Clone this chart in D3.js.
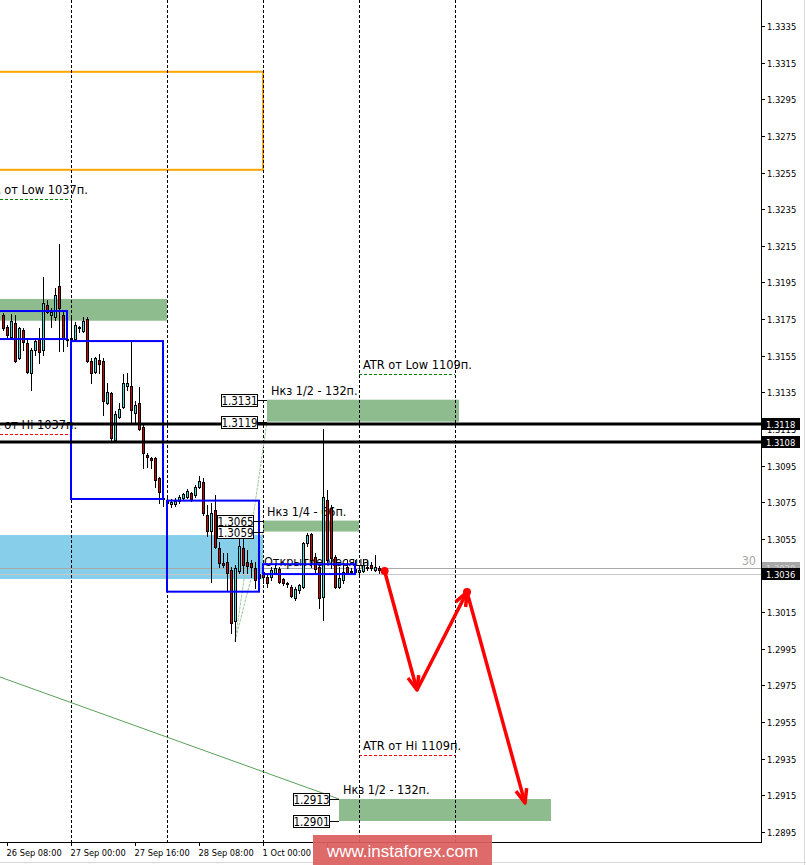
<!DOCTYPE html>
<html><head><meta charset="utf-8">
<script src="https://cdn.jsdelivr.net/npm/d3@7"></script>
<style>html,body{margin:0;padding:0;background:#fff;overflow:hidden}svg{display:block}</style>
</head><body>
<script>
// ---------- DATA ----------
// H1 candles, bar 0 = 26 Sep 07:00
const opens=[1.31772,1.31707,1.31652,1.31728,1.31537,1.31690,1.31619,1.31455,1.31581,1.31641,1.31581,1.31827,1.31772,1.31761,1.31930,1.31772,1.31641,1.31641,1.31641,1.31701,1.31685,1.31750,1.31521,1.31461,1.31526,1.31521,1.31292,1.31346,1.31090,1.31215,1.31270,1.31384,1.31384,1.31237,1.31292,1.31161,1.31008,1.30991,1.30991,1.30882,1.30773,1.30762,1.30740,1.30740,1.30757,1.30773,1.30778,1.30800,1.30789,1.30833,1.30860,1.30680,1.30593,1.30707,1.30500,1.30418,1.30424,1.30380,1.30101,1.30374,1.30500,1.30424,1.30418,1.30391,1.30336,1.30369,1.30342,1.30342,1.30363,1.30385,1.30331,1.30309,1.30287,1.30227,1.30271,1.30287,1.30527,1.30576,1.30451,1.30396,1.30232,1.30762,1.30718,1.30451,1.30287,1.30325,1.30396,1.30374,1.30385,1.30369,1.30374,1.30396,1.30407,1.30380,1.30391];
const highs=[1.31783,1.31718,1.31778,1.31772,1.31707,1.31701,1.31647,1.31592,1.31647,1.31701,1.31980,1.31854,1.31810,1.31920,1.32160,1.31789,1.31652,1.31761,1.31734,1.31712,1.31761,1.31761,1.31537,1.31543,1.31559,1.31537,1.31401,1.31352,1.31248,1.31292,1.31450,1.31455,1.31625,1.31303,1.31379,1.31172,1.31019,1.30997,1.30997,1.30888,1.30778,1.30773,1.30768,1.30773,1.30789,1.30800,1.30822,1.30806,1.30844,1.30893,1.30882,1.30735,1.30746,1.30789,1.30533,1.30473,1.30473,1.30396,1.30407,1.30560,1.30609,1.30489,1.30434,1.30424,1.30391,1.30396,1.30353,1.30396,1.30407,1.30396,1.30336,1.30314,1.30298,1.30287,1.30303,1.30533,1.30582,1.30582,1.30473,1.30407,1.31150,1.30817,1.30735,1.30462,1.30396,1.30418,1.30434,1.30391,1.30434,1.30396,1.30440,1.30434,1.30424,1.30462,1.30402];
const lows=[1.31690,1.31652,1.31647,1.31515,1.31532,1.31581,1.31455,1.31363,1.31554,1.31510,1.31554,1.31783,1.31707,1.31745,1.31576,1.31576,1.31603,1.31630,1.31636,1.31679,1.31679,1.31515,1.31401,1.31455,1.31455,1.31226,1.31286,1.31079,1.31079,1.31210,1.31264,1.31363,1.31188,1.31182,1.31144,1.30937,1.30942,1.30937,1.30833,1.30746,1.30729,1.30729,1.30724,1.30729,1.30746,1.30762,1.30773,1.30757,1.30778,1.30828,1.30680,1.30565,1.30314,1.30500,1.30396,1.30396,1.30271,1.30036,1.29992,1.30363,1.30363,1.30363,1.30342,1.30282,1.30298,1.30309,1.30287,1.30325,1.30358,1.30309,1.30298,1.30287,1.30232,1.30216,1.30254,1.30282,1.30511,1.30396,1.30369,1.30172,1.30107,1.30424,1.30391,1.30282,1.30282,1.30309,1.30358,1.30358,1.30363,1.30353,1.30369,1.30380,1.30380,1.30374,1.30363];
const closes=[1.31701,1.31663,1.31739,1.31521,1.31701,1.31625,1.31461,1.31581,1.31630,1.31570,1.31838,1.31789,1.31789,1.31881,1.31810,1.31647,1.31636,1.31647,1.31718,1.31707,1.31739,1.31521,1.31455,1.31537,1.31505,1.31303,1.31352,1.31101,1.31232,1.31259,1.31401,1.31401,1.31253,1.31281,1.31150,1.31019,1.30997,1.30980,1.30871,1.30806,1.30768,1.30746,1.30751,1.30757,1.30778,1.30795,1.30811,1.30768,1.30833,1.30866,1.30691,1.30593,1.30691,1.30505,1.30418,1.30407,1.30363,1.30090,1.30391,1.30511,1.30407,1.30402,1.30396,1.30325,1.30358,1.30342,1.30309,1.30380,1.30391,1.30314,1.30309,1.30303,1.30238,1.30276,1.30298,1.30527,1.30571,1.30434,1.30385,1.30227,1.30778,1.30434,1.30445,1.30287,1.30336,1.30369,1.30363,1.30369,1.30369,1.30380,1.30407,1.30391,1.30391,1.30396,1.30380];

const priceTicks=[1.2895,1.2915,1.2935,1.2955,1.2975,1.2995,1.3015,1.3035,1.3055,1.3075,1.3095,1.3115,1.3135,1.3155,1.3175,1.3195,1.3215,1.3235,1.3255,1.3275,1.3295,1.3315,1.3335];
const timeTickIdx=[1,17,33,49,65,81];
const timeTickLabels=["26 Sep 08:00","27 Sep 00:00","27 Sep 16:00","28 Sep 08:00","1 Oct 00:00","1 Oct 16:00"];
const daySepIdx=[17,41,65,89,113];

const greenZones=[
  {i0:-20,i1:41,top:1.3186,bot:1.31741,title:null},
  {i0:66,i1:114,top:1.3131,bot:1.3119,title:"Нкз 1/2 - 132п."},
  {i0:65,i1:89,top:1.3065,bot:1.3059,title:"Нкз 1/4 - 66п."},
  {i0:84,i1:137,top:1.2913,bot:1.2901,title:"Нкз 1/2 - 132п."}
];
const blueZone={i0:-20,i1:65,top:1.30571,bot:1.30331};
const orangeBox={i0:-20,i1:65,top:1.3310,bot:1.32565};
const blueBoxes=[
  {i0:-20,i1:16,top:1.31794,bot:1.31641},
  {i0:17,i1:40,top:1.3163,bot:1.30768},
  {i0:41,i1:64,top:1.30759,bot:1.30262},
  {i0:65,i1:88,top:1.30412,bot:1.30358}
];
const atrLines=[
  {i0:-7,i1:17,price:1.32406,text:"ATR от Low 1037п.",color:"#008000"},
  {i0:-7,i1:17,price:1.31123,text:"ATR от Hi 1037п.",color:"#ff0000"},
  {i0:89,i1:113,price:1.31450,text:"ATR от Low 1109п.",color:"#008000"},
  {i0:89,i1:113,price:1.29368,text:"ATR от Hi 1109п.",color:"#ff0000"}
];
const blackLevels=[1.3118,1.3108];
const grayLevels=[{price:1.3039,color:"#a8a8a8",text:"30"},{price:1.3036,color:"#c8c8c8",text:null}];
const monthOpen={i:65,text:"Открытие месяца"};
const guideLines=[
  {a:[58,1.29992],b:[66,1.3119],color:"#9cc89c",dash:"3,1"},
  {a:[58,1.29992],b:[65,1.3059],color:"#9cc89c",dash:"3,1"},
  {a:[-0.75,1.29796],b:[84,1.2913],color:"#5aa05a",dash:null}
];
const arrowIdx=[95.4,103.5,116,130.5];
const arrowPrice=[1.30375,1.29725,1.30260,1.29108];

// ---------- CHART ----------
const W=806,H=865,plotR=761,plotB=842;
const x=d3.scaleLinear().domain([0,65]).range([3,263]);
const y=d3.scaleLinear().domain([1.2895,1.3335]).range([832,26]);
const fmt=d3.format(".4f");
const FONT="'DejaVu Sans Condensed','DejaVu Sans',sans-serif";

const svg=d3.select("body").append("svg").attr("width",W).attr("height",H).style("font-family",FONT);
svg.append("rect").attr("width",W).attr("height",H).attr("fill","#fff");
svg.append("defs").append("clipPath").attr("id","clip").append("rect").attr("width",plotR).attr("height",plotB);
const g=svg.append("g").attr("clip-path","url(#clip)");

// orange box
g.append("rect").attr("x",x(orangeBox.i0)).attr("y",y(orangeBox.top))
 .attr("width",x(orangeBox.i1)-x(orangeBox.i0)).attr("height",y(orangeBox.bot)-y(orangeBox.top))
 .attr("fill","none").attr("stroke","#ffa500").attr("stroke-width",2);

// sky blue zone
g.append("rect").attr("x",x(blueZone.i0)).attr("y",y(blueZone.top))
 .attr("width",x(blueZone.i1)-x(blueZone.i0)).attr("height",y(blueZone.bot)-y(blueZone.top))
 .attr("fill","#87ceeb");

// green zones
g.selectAll("rect.gz").data(greenZones).join("rect").attr("class","gz")
 .attr("x",d=>x(d.i0)).attr("y",d=>y(d.top)).attr("width",d=>x(d.i1)-x(d.i0))
 .attr("height",d=>y(d.bot)-y(d.top)).attr("fill","#8fbc8f");

// gray levels
grayLevels.forEach(l=>{
  const yy=Math.round(y(l.price))+0.5;
  g.append("line").attr("x1",0).attr("x2",plotR).attr("y1",yy).attr("y2",yy).attr("stroke",l.color).attr("stroke-width",1);
  if(l.text) g.append("text").attr("x",756).attr("y",yy-4).attr("text-anchor","end").attr("font-size",12.5).attr("fill","#a8a8a8").text(l.text);
});

// ATR lines and texts
atrLines.forEach(a=>{
  const yy=Math.round(y(a.price))+0.5;
  g.append("line").attr("x1",x(a.i0)).attr("x2",x(a.i1)).attr("y1",yy).attr("y2",yy)
   .attr("stroke",a.color).attr("stroke-width",1).attr("stroke-dasharray","3,2");
  g.append("text").attr("x",x(a.i0)+4).attr("y",yy-6).attr("font-size",12.7).attr("fill","#000").text(a.text);
});

// zone titles
greenZones.filter(d=>d.title).forEach(d=>{
  g.append("text").attr("x",x(d.i0)+4).attr("y",y(d.top)-5).attr("font-size",12.5).attr("fill","#000").text(d.title);
});
// month open text
g.append("text").attr("x",x(monthOpen.i)+1).attr("y",566).attr("font-size",12.5).attr("fill","#000").text(monthOpen.text);

// day separators
g.selectAll("line.sep").data(daySepIdx).join("line").attr("class","sep")
 .attr("x1",d=>x(d)+0.5).attr("x2",d=>x(d)+0.5).attr("y1",0).attr("y2",plotB)
 .attr("stroke","#000").attr("stroke-width",1).attr("stroke-dasharray","3,2");

// guide lines
guideLines.forEach(l=>{
  g.append("line").attr("x1",x(l.a[0])).attr("y1",y(l.a[1])).attr("x2",x(l.b[0])).attr("y2",y(l.b[1]))
   .attr("stroke",l.color).attr("stroke-width",1).attr("stroke-dasharray",l.dash);
});

// candles
const idx=d3.range(opens.length);
const cg=g.append("g");
cg.selectAll("line.wick").data(idx).join("line").attr("class","wick")
 .attr("x1",i=>Math.round(x(i))+0.5).attr("x2",i=>Math.round(x(i))+0.5)
 .attr("y1",i=>Math.round(y(highs[i]))).attr("y2",i=>Math.round(y(lows[i]))+1)
 .attr("stroke","#000").attr("stroke-width",1);
cg.selectAll("rect.body").data(idx).join("rect").attr("class","body")
 .attr("x",i=>Math.round(x(i))-0.5).attr("width",2)
 .attr("y",i=>Math.round(y(Math.max(opens[i],closes[i])))+0.5)
 .attr("height",i=>Math.max(1,Math.round(y(Math.min(opens[i],closes[i])))-Math.round(y(Math.max(opens[i],closes[i])))))
 .attr("fill",i=>closes[i]>=opens[i]?"#3fe0e0":"#d00000")
 .attr("stroke","#000").attr("stroke-width",1);

// blue boxes
g.selectAll("rect.bb").data(blueBoxes).join("rect").attr("class","bb")
 .attr("x",d=>x(d.i0)).attr("y",d=>y(d.top)).attr("width",d=>x(d.i1)-x(d.i0))
 .attr("height",d=>y(d.bot)-y(d.top)).attr("fill","none").attr("stroke","#0000ff").attr("stroke-width",2);

// black levels
blackLevels.forEach(p=>{
  const yy=Math.round(y(p));
  g.append("line").attr("x1",0).attr("x2",plotR).attr("y1",yy).attr("y2",yy).attr("stroke","#000").attr("stroke-width",3);
});

// price label boxes for zones
greenZones.filter(d=>d.title).forEach(d=>{
  [d.top,d.bot].forEach(p=>{
    const yy=Math.round(y(p))+0.5, xr=Math.round(x(d.i0))-10+0.5;
    g.append("line").attr("x1",xr).attr("x2",x(d.i0)).attr("y1",yy).attr("y2",yy).attr("stroke","#000");
    g.append("rect").attr("x",xr-36).attr("y",yy-6).attr("width",36).attr("height",12)
     .attr("fill","#fff").attr("stroke","#000").attr("stroke-width",1);
    g.append("text").attr("x",xr-18).attr("y",yy+4.5).attr("text-anchor","middle").attr("font-size",11.5).attr("fill","#000").text(fmt(p));
  });
});

// red arrows
const pts=arrowIdx.map((v,k)=>[x(v),y(arrowPrice[k])]);
const ag=svg.append("g").attr("clip-path","url(#clip)");
function head(p,q){const a=Math.atan2(q[1]-p[1],q[0]-p[0]),L=15,s=0.38;
  return [[q[0]-L*Math.cos(a-s),q[1]-L*Math.sin(a-s)],q,[q[0]-L*Math.cos(a+s),q[1]-L*Math.sin(a+s)]];}
for(let k=0;k<pts.length-1;k++){
  ag.append("path").attr("d",d3.line()([pts[k],pts[k+1]])).attr("stroke","#ff0000").attr("stroke-width",3.5).attr("fill","none");
  ag.append("path").attr("d",d3.line()(head(pts[k],pts[k+1]))).attr("stroke","#ff0000").attr("stroke-width",3.5).attr("fill","none").attr("stroke-linejoin","round");
}
[pts[0],pts[2]].forEach(p=>ag.append("circle").attr("cx",p[0]).attr("cy",p[1]).attr("r",4).attr("fill","#ff0000"));

// ---------- AXES ----------
svg.append("line").attr("x1",plotR+0.5).attr("x2",plotR+0.5).attr("y1",0).attr("y2",plotB+1).attr("stroke","#000");
svg.append("line").attr("x1",0).attr("x2",plotR+1).attr("y1",plotB+0.5).attr("y2",plotB+0.5).attr("stroke","#000");
svg.append("line").attr("x1",804.5).attr("x2",804.5).attr("y1",0).attr("y2",H).attr("stroke","#d8d8d8");
svg.append("line").attr("x1",0).attr("x2",W).attr("y1",862.5).attr("y2",862.5).attr("stroke","#d8d8d8");

const yAxis=svg.append("g");
priceTicks.forEach(p=>{
  const yy=Math.round(y(p))+0.5;
  yAxis.append("line").attr("x1",762).attr("x2",765).attr("y1",yy).attr("y2",yy).attr("stroke","#000");
  yAxis.append("text").attr("x",767).attr("y",yy+3.5).attr("font-size",9.3).attr("fill","#000").text(fmt(p));
});
// level labels on axis
function axisLabel(p,bg,fg){const yy=Math.round(y(p));
  svg.append("rect").attr("x",762).attr("y",yy-6).attr("width",38).attr("height",12).attr("fill",bg);
  svg.append("text").attr("x",766).attr("y",yy+3.5).attr("font-size",9.3).attr("fill",fg).text(fmt(p));}
axisLabel(1.3039,"#a8a8a8","#d8d8d8");
axisLabel(1.3036,"#000","#fff");
blackLevels.forEach(p=>axisLabel(p,"#000","#fff"));

// time axis
timeTickIdx.forEach((t,k)=>{
  const xx=Math.round(x(t))+0.5;
  svg.append("line").attr("x1",xx).attr("x2",xx).attr("y1",plotB).attr("y2",plotB+4).attr("stroke","#000");
  svg.append("text").attr("x",xx-1).attr("y",856).attr("font-size",9.2).attr("fill","#000").text(timeTickLabels[k]);
});

// watermark banner
svg.append("rect").attr("x",313).attr("y",835).attr("width",179).attr("height",30).attr("fill","#db5f5f").attr("opacity",0.93);
svg.append("text").attr("x",402.5).attr("y",857).attr("text-anchor","middle").attr("font-family","'Liberation Sans',Arial,sans-serif")
 .attr("font-size",17).attr("fill","#fff").text("www.instaforex.com");
</script>
</body></html>
